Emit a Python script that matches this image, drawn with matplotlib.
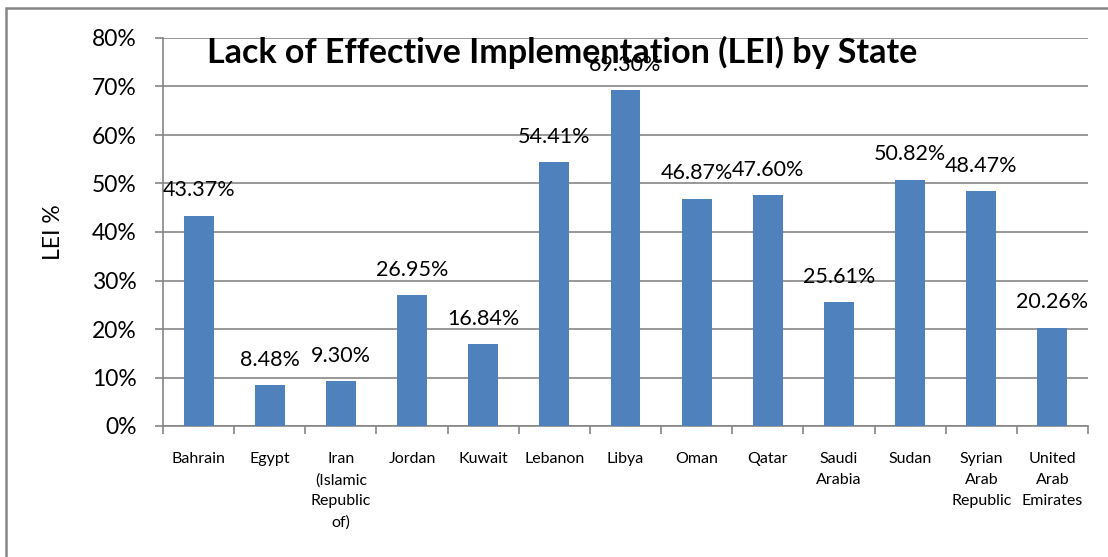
import matplotlib
matplotlib.use('Agg')
import matplotlib.pyplot as plt
from matplotlib.patches import Rectangle
from matplotlib.ticker import FixedLocator, PercentFormatter

# data
states = ['Bahrain', 'Egypt', 'Iran\n(Islamic\nRepublic\nof)', 'Jordan', 'Kuwait',
          'Lebanon', 'Libya', 'Oman', 'Qatar', 'Saudi\nArabia', 'Sudan',
          'Syrian\nArab\nRepublic', 'United\nArab\nEmirates']
lei = [43.37, 8.48, 9.30, 26.95, 16.84, 54.41, 69.30, 46.87, 47.60, 25.61, 50.82, 48.47, 20.26]

plt.rcParams['font.family'] = ['Lato', 'DejaVu Sans']

W, H = 1108, 557
fig = plt.figure(figsize=(W / 100, H / 100), dpi=100)
ax = fig.add_axes([163 / W, 1 - 426 / H, (1088 - 163) / W, (426 - 38) / H])

grey = '#868686'
blue = '#4F81BD'

x = list(range(len(states)))
bars = ax.bar(x, lei, width=0.42, color=blue, zorder=3)

for xi, v in zip(x, lei):
    ax.annotate(f'{v:.2f}%', (xi, v), xytext=(0, 11), textcoords='offset points',
                ha='center', va='bottom', fontsize=15.5, zorder=4)

ax.set_xlim(-0.5, len(states) - 0.5)
ax.set_ylim(0, 80)
ax.set_yticks(range(0, 81, 10))
ax.yaxis.set_major_formatter(PercentFormatter(decimals=0))
ax.tick_params(axis='y', labelsize=16.5, length=6, color=grey, width=1.2, pad=13)
ax.yaxis.grid(True, color=grey, linewidth=1.2, zorder=0)

ax.set_xticks(x)
ax.set_xticklabels(states, fontsize=11.5, linespacing=1.6, va='top')
ax.tick_params(axis='x', which='major', length=0, pad=19)
ax.xaxis.set_minor_locator(FixedLocator([i - 0.5 for i in range(len(states) + 1)]))
ax.tick_params(axis='x', which='minor', length=6, color=grey, width=1.2)

for s in ['top', 'right']:
    ax.spines[s].set_visible(False)
for s in ['left', 'bottom']:
    ax.spines[s].set_color(grey)
    ax.spines[s].set_linewidth(1.2)

ax.set_ylabel('LEI %', fontsize=16.5, labelpad=20)

fig.text(562 / W, 1 - 63 / H, 'Lack of Effective Implementation (LEI) by State',
         ha='center', va='baseline', fontsize=24.5, fontweight='bold', zorder=5)

fig.patches.append(Rectangle((6 / W, -0.1), 2, 1.1 - 8 / H, transform=fig.transFigure,
                             fill=False, edgecolor=grey, linewidth=1.8))

fig.savefig('out.png', dpi=100)
